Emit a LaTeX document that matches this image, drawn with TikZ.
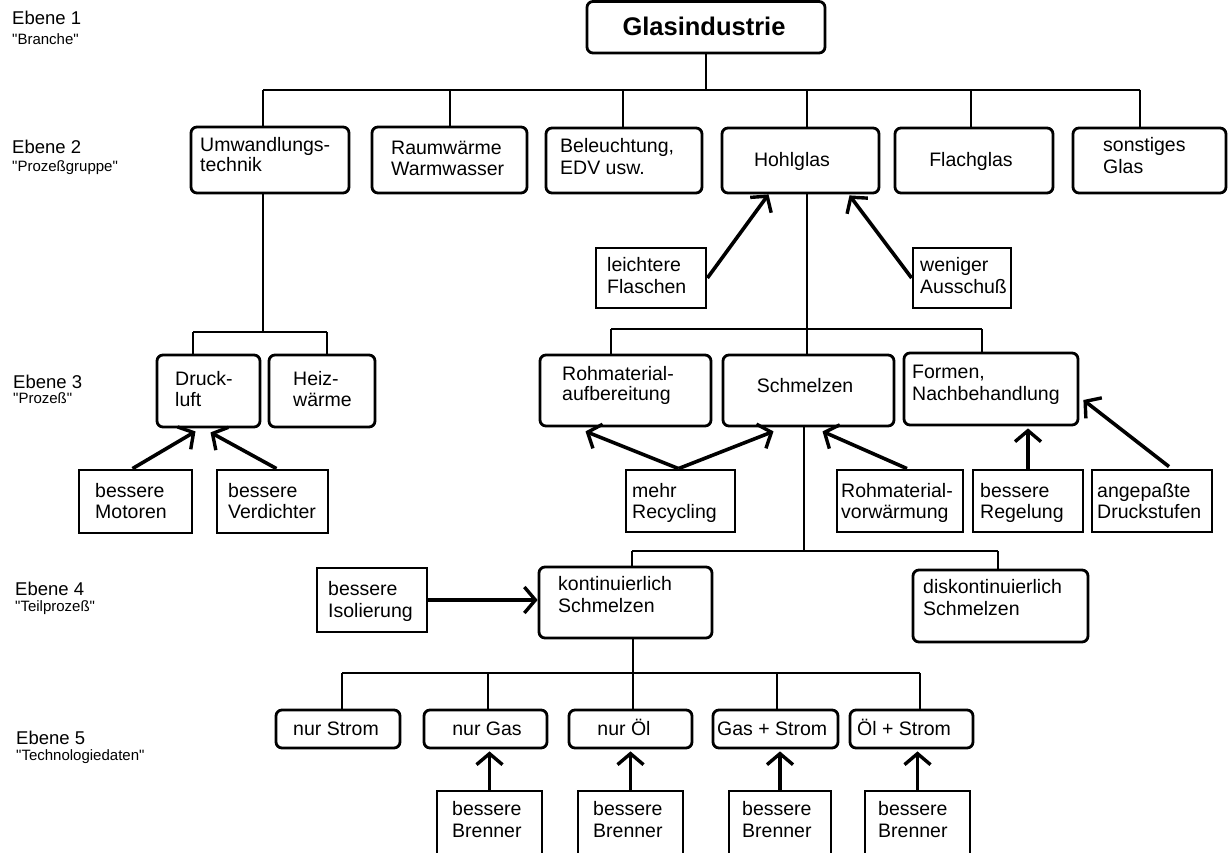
\documentclass[tikz,border=0pt]{standalone}
\usepackage{fontspec}
\setmainfont{Liberation Sans}
\newfontfamily\qfont{Liberation Sans}
\usetikzlibrary{arrows.meta,calc}
\newcommand\bx[6]{\node[#2,minimum width={#5-#3},minimum height={#6-#4}] (#1) at ({(#3+#5)/2},{(#4+#6)/2}) {};}
\newcommand\tx[5][txt]{\node[#1] (#2) at (#3,#4) {#5};}
\begin{document}
\begin{tikzpicture}[x=1pt,y=-1pt,
  rbox/.style={draw,line width=2.8pt,rounded corners=6pt,inner sep=0pt},
  mbox/.style={draw,line width=2.8pt,inner sep=0pt},
  txt/.style={inner sep=0pt,anchor=base west,font=\fontsize{19.5}{22}\selectfont},
  ctxt/.style={txt,anchor=base},
  gtxt/.style={inner sep=0pt,anchor=base,font=\fontsize{25.5}{28}\selectfont\bfseries},
  etxt/.style={inner sep=0pt,anchor=base west,font=\fontsize{18.5}{21}\selectfont},
  qtxt/.style={inner sep=0pt,anchor=base west,font=\qfont\fontsize{15}{18}\selectfont},
  conn/.style={line width=2.8pt},
  arr/.style={line width=3.6pt,-{Straight Barb[length=11pt,width=26pt,line width=3.4pt]}}]
\useasboundingbox (0,0) rectangle (1228,853);
% ---- level labels
\tx[etxt]{e1}{12}{25}{Ebene 1}
\tx[qtxt]{e1b}{12}{45}{"Branche"}
\tx[etxt]{e2}{12}{154}{Ebene 2}
\tx[qtxt]{e2b}{12}{172}{"Prozeßgruppe"}
\tx[etxt]{e3}{13}{388}{Ebene 3}
\tx[qtxt]{e3b}{13}{403}{"Prozeß"}
\tx[etxt]{e4}{15}{595}{Ebene 4}
\tx[qtxt]{e4b}{15}{611}{"Teilprozeß"}
\tx[etxt]{e5}{16}{744}{Ebene 5}
\tx[qtxt]{e5b}{16}{760}{"Technologiedaten"}
% ---- boxes
\bx{glas}{rbox}{587}{1.5}{825}{53}
\bx{umw}{rbox}{191}{127}{349}{193}
\bx{raum}{rbox}{372}{127}{527}{193}
\bx{bel}{rbox}{546}{128}{702}{193}
\bx{hohl}{rbox}{722}{128}{879}{193}
\bx{flach}{rbox}{895}{128}{1053}{193}
\bx{sonst}{rbox}{1073}{128}{1226}{193}
\bx{druck}{rbox}{157}{355}{260}{427}
\bx{heiz}{rbox}{269}{355}{375}{427}
\bx{mot}{mbox}{79}{470}{192}{533}
\bx{verd}{mbox}{217}{470}{328}{533}
\bx{leicht}{mbox}{596}{248}{706}{308}
\bx{wenig}{mbox}{913}{248}{1011}{308}
\bx{roh}{rbox}{540}{355}{711}{426}
\bx{schm}{rbox}{723}{355}{894}{426}
\bx{form}{rbox}{904}{353}{1078}{425}
\bx{recyc}{mbox}{626}{470}{735}{532}
\bx{vorw}{mbox}{837}{470}{963}{532}
\bx{regel}{mbox}{973}{470}{1083}{532}
\bx{druckst}{mbox}{1092}{470}{1212}{532}
\bx{iso}{mbox}{317}{568}{427}{632}
\bx{kont}{rbox}{539}{567}{712}{638}
\bx{disk}{rbox}{913}{570}{1088}{642}
\bx{strom}{rbox}{276}{710}{400}{748}
\bx{gas}{rbox}{424}{710}{547}{748}
\bx{oel}{rbox}{569}{710}{692}{748}
\bx{gasst}{rbox}{713}{710}{838}{748}
\bx{oelst}{rbox}{850}{710}{973}{748}
\bx{br1}{mbox}{437}{791}{542}{858}
\bx{br2}{mbox}{578}{791}{683}{858}
\bx{br3}{mbox}{729}{791}{831}{858}
\bx{br4}{mbox}{865}{791}{970}{858}
% ---- texts
\tx[gtxt]{t-glas}{704}{36}{Glasindustrie}
\tx{t-umw1}{200}{152}{Umwandlungs-}
\tx{t-umw2}{200}{172}{technik}
\tx{t-raum1}{391}{155}{Raumwärme}
\tx{t-raum2}{391}{176}{Warmwasser}
\tx{t-bel1}{560}{153}{Beleuchtung,}
\tx{t-bel2}{560}{175}{EDV usw.}
\tx[ctxt]{t-hohl}{792}{167}{Hohlglas}
\tx[ctxt]{t-flach}{971}{167}{Flachglas}
\tx{t-sonst1}{1103}{152}{sonstiges}
\tx{t-sonst2}{1103}{174}{Glas}
\tx{t-druck1}{175}{385}{Druck-}
\tx{t-druck2}{175}{406}{luft}
\tx{t-heiz1}{293}{385}{Heiz-}
\tx{t-heiz2}{293}{406}{wärme}
\tx{t-mot1}{95}{497}{bessere}
\tx{t-mot2}{95}{518}{Motoren}
\tx{t-verd1}{228}{497}{bessere}
\tx{t-verd2}{228}{518}{Verdichter}
\tx{t-leicht1}{607}{271}{leichtere}
\tx{t-leicht2}{607}{293}{Flaschen}
\tx{t-wenig1}{920}{271}{weniger}
\tx{t-wenig2}{920}{293}{Ausschuß}
\tx{t-roh1}{562}{380}{Rohmaterial-}
\tx{t-roh2}{562}{400}{aufbereitung}
\tx[ctxt]{t-schm}{805}{392}{Schmelzen}
\tx{t-form1}{912}{378}{Formen,}
\tx{t-form2}{912}{400}{Nachbehandlung}
\tx{t-recyc1}{632}{497}{mehr}
\tx{t-recyc2}{632}{518}{Recycling}
\tx{t-vorw1}{841}{497}{Rohmaterial-}
\tx{t-vorw2}{841}{518}{vorwärmung}
\tx{t-regel1}{980}{497}{bessere}
\tx{t-regel2}{980}{518}{Regelung}
\tx{t-druckst1}{1097}{497}{angepaßte}
\tx{t-druckst2}{1097}{518}{Druckstufen}
\tx{t-iso1}{328}{595}{bessere}
\tx{t-iso2}{328}{617}{Isolierung}
\tx{t-kont1}{558}{590}{kontinuierlich}
\tx{t-kont2}{558}{612}{Schmelzen}
\tx{t-disk1}{923}{593}{diskontinuierlich}
\tx{t-disk2}{923}{615}{Schmelzen}
\tx[ctxt]{t-strom}{336}{735}{nur Strom}
\tx[ctxt]{t-gas}{487}{735}{nur Gas}
\tx[ctxt]{t-oel}{624}{735}{nur Öl}
\tx{t-gasst}{717}{735}{Gas + Strom}
\tx{t-oelst}{857}{735}{Öl + Strom}
\tx{t-br1a}{452}{815}{bessere}
\tx{t-br1b}{452}{837}{Brenner}
\tx{t-br2a}{593}{815}{bessere}
\tx{t-br2b}{593}{837}{Brenner}
\tx{t-br3a}{742}{815}{bessere}
\tx{t-br3b}{742}{837}{Brenner}
\tx{t-br4a}{878}{815}{bessere}
\tx{t-br4b}{878}{837}{Brenner}
% ---- tree connectors
\coordinate (a1) at (263,90);
\coordinate (a2) at (450,90);
\coordinate (a3) at (623,90);
\coordinate (a4) at (807,90);
\coordinate (a5) at (971,90);
\coordinate (a6) at (1140,90);
\draw[conn] (glas.south) -- (glas.south |- a1);
\draw[conn] (a1) -- (a6);
\foreach \c/\n in {a1/umw,a2/raum,a3/bel,a4/hohl,a5/flach,a6/sonst}
  \draw[conn] (\c) -- (\c |- \n.north);
% Umwandlungstechnik
\coordinate (b0) at (263,332);
\coordinate (b1) at (193,332);
\coordinate (b2) at (327,332);
\draw[conn] (b0 |- umw.south) -- (b0);
\draw[conn] (b1) -- (b2);
\draw[conn] (b1) -- (b1 |- druck.north);
\draw[conn] (b2) -- (b2 |- heiz.north);
% Hohlglas
\coordinate (c0) at (807,329);
\coordinate (c1) at (611,329);
\coordinate (c2) at (982,329);
\draw[conn] (c0 |- hohl.south) -- (c0 |- schm.north);
\draw[conn] (c1) -- (c2);
\draw[conn] (c1) -- (c1 |- roh.north);
\draw[conn] (c2) -- (c2 |- form.north);
% Schmelzen
\coordinate (d0) at (804,551);
\coordinate (d1) at (632,551);
\coordinate (d2) at (998,551);
\draw[conn] (d0 |- schm.south) -- (d0);
\draw[conn] (d1) -- (d2);
\draw[conn] (d1) -- (d1 |- kont.north);
\draw[conn] (d2) -- (d2 |- disk.north);
% kontinuierlich
\coordinate (f0) at (633,673);
\coordinate (f1) at (342,673);
\coordinate (f2) at (488,673);
\coordinate (f4) at (777,673);
\coordinate (f5) at (920,673);
\draw[conn] (f0 |- kont.south) -- (f0 |- oel.north);
\draw[conn] (f1) -- (f5);
\foreach \c/\n in {f1/strom,f2/gas,f4/gasst,f5/oelst}
  \draw[conn] (\c) -- (\c |- \n.north);
% ---- improvement arrows
\draw[arr] ([xshift=-3pt]mot.north) -- ([xshift=-13pt,yshift=-3pt]druck.south);
\draw[arr] ([xshift=4pt]verd.north) -- ([xshift=2pt,yshift=-4pt]druck.south);
\draw[arr] (leicht.east) -- ([xshift=-32pt]hohl.south);
\draw[arr] (wenig.west) -- ([xshift=49pt,yshift=-1pt]hohl.south);
\draw[arr] ([xshift=-2pt]recyc.north) -- ([xshift=-40pt,yshift=-4pt]roh.south);
\draw[arr] ([xshift=-2pt]recyc.north) -- ([xshift=-35pt,yshift=-4pt]schm.south);
\draw[arr] ([xshift=7pt]vorw.north) -- ([xshift=14pt,yshift=-4pt]schm.south);
\draw[arr] (regel.north) -- ([yshift=-2pt]regel.north |- form.south);
\draw[arr] ([xshift=17pt,yshift=2pt]druckst.north) -- ([xshift=4pt,yshift=-11pt]form.east);
\draw[arr] (iso.east) -- (iso.east -| kont.west);
\foreach \b/\n in {br1/gas,br2/oel,br3/gasst,br4/oelst}
  \draw[arr] (\b.north) -- ([yshift=-2pt]\b.north |- \n.south);
\end{tikzpicture}
\end{document}
